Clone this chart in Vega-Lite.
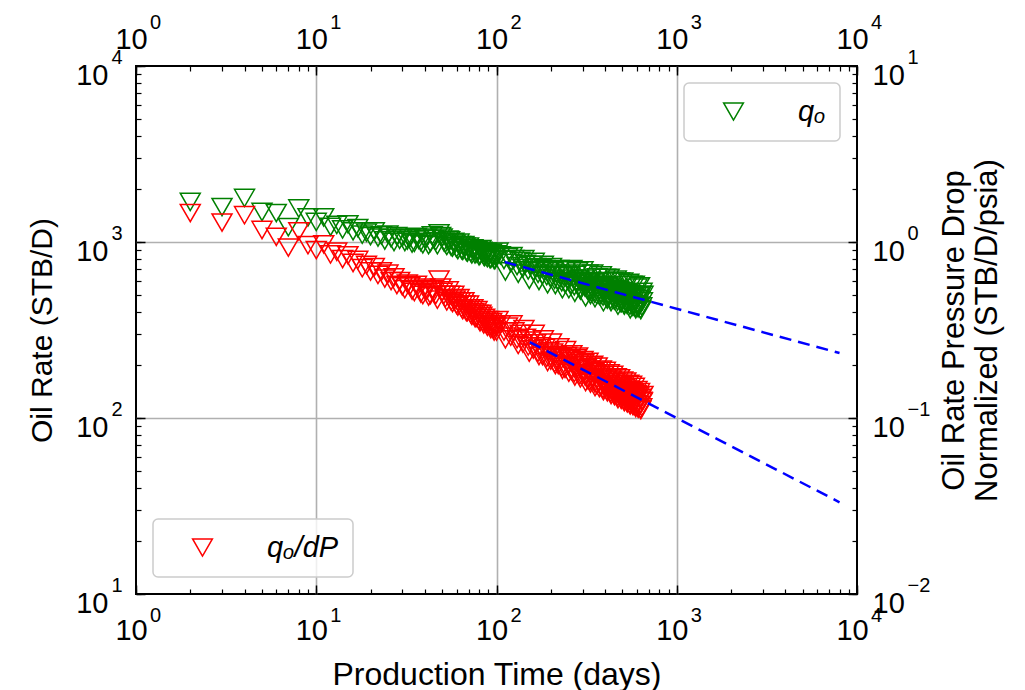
{
  "$schema": "https://vega.github.io/schema/vega-lite/v6.json",
  "width": 721,
  "height": 528,
  "autosize": {"type": "none"},
  "padding": {"left": 136, "top": 66, "right": 168, "bottom": 96},
  "background": "white",
  "config": {
    "font": "Liberation Sans",
    "view": {"stroke": "black", "strokeWidth": 2},
    "axis": {
      "labelFont": "Liberation Sans", "titleFont": "Liberation Sans",
      "labelColor": "black", "titleColor": "black", "titleFontWeight": "normal",
      "labelFlush": false, "labelOverlap": false, "domain": false,
      "tickColor": "black", "tickWidth": 1.5, "gridColor": "#b0b0b0", "gridWidth": 1.6
    },
    "legend": {
      "padding": 14, "offset": 17, "strokeColor": "#cccccc", "strokeWidth": 1.5,
      "cornerRadius": 5, "fillColor": "rgba(255,255,255,0.8)",
      "symbolType": "triangle-down", "symbolSize": 390, "symbolStrokeWidth": 1.5,
      "symbolOffset": 21, "labelOffset": 50, "labelFontSize": 29, "labelFontStyle": "italic",
      "labelFont": "Liberation Sans", "labelColor": "black", "labelLimit": 300
    }
  },
  "datasets": {
    "prod": [
      {"t":2,"q":1690,"qn":1.46},{"t":3,"q":1580,"qn":1.29},{"t":4,"q":1780,"qn":1.42},{"t":5,"q":1480,"qn":1.17},
      {"t":6,"q":1460,"qn":1.07},{"t":7,"q":1215,"qn":0.93},{"t":8,"q":1550,"qn":1.15},{"t":9,"q":1380,"qn":0.96},
      {"t":10,"q":1300,"qn":0.90},{"t":11,"q":1380,"qn":0.97},{"t":12,"q":1220,"qn":0.85},{"t":13,"q":1250,"qn":0.88},
      {"t":14,"q":1180,"qn":0.80},{"t":15,"q":1260,"qn":0.84},{"t":16,"q":1150,"qn":0.76},{"t":17,"q":1200,"qn":0.79},
      {"t":18,"q":1100,"qn":0.71},{"t":19,"q":1130,"qn":0.74},{"t":20,"q":1080,"qn":0.68},{"t":21,"q":1150,"qn":0.72},
      {"t":22,"q":1060,"qn":0.65},{"t":23,"q":1090,"qn":0.68},{"t":24,"q":1020,"qn":0.62},{"t":25,"q":1100,"qn":0.66},
      {"t":26,"q":1050,"qn":0.60},{"t":27,"q":1000,"qn":0.63},{"t":28,"q":1080,"qn":0.57},{"t":29,"q":1030,"qn":0.60},
      {"t":30,"q":1060,"qn":0.56},{"t":31,"q":1000,"qn":0.54},{"t":32,"q":1020,"qn":0.58},{"t":33,"q":1050,"qn":0.56},
      {"t":34,"q":980,"qn":0.53},{"t":35,"q":990,"qn":0.52},{"t":36,"q":1070,"qn":0.57},{"t":37,"q":1030,"qn":0.54},
      {"t":38,"q":1000,"qn":0.51},{"t":39,"q":970,"qn":0.50},{"t":40,"q":1040,"qn":0.55},{"t":41,"q":1060,"qn":0.53},
      {"t":42,"q":960,"qn":0.49},{"t":43,"q":990,"qn":0.50},{"t":44,"q":1090,"qn":0.54},{"t":45,"q":1040,"qn":0.52},
      {"t":46,"q":1010,"qn":0.50},{"t":47,"q":960,"qn":0.47},{"t":48,"q":1120,"qn":0.61},{"t":49,"q":1080,"qn":0.55},
      {"t":50,"q":1060,"qn":0.52},{"t":51,"q":1000,"qn":0.50},{"t":52,"q":980,"qn":0.48},{"t":53,"q":950,"qn":0.46},
      {"t":54,"q":1030,"qn":0.53},{"t":55,"q":1020,"qn":0.50},{"t":56,"q":940,"qn":0.46},{"t":57,"q":930,"qn":0.45},
      {"t":58,"q":1000,"qn":0.50},{"t":59,"q":980,"qn":0.47},{"t":60,"q":920,"qn":0.44},{"t":61,"q":900,"qn":0.43},
      {"t":62,"q":990,"qn":0.48},{"t":63,"q":960,"qn":0.46},{"t":64,"q":900,"qn":0.42},{"t":65,"q":890,"qn":0.41},
      {"t":66,"q":960,"qn":0.46},{"t":67,"q":940,"qn":0.44},{"t":68,"q":880,"qn":0.40},{"t":69,"q":870,"qn":0.40},
      {"t":70,"q":940,"qn":0.44},{"t":71,"q":920,"qn":0.42},{"t":72,"q":870,"qn":0.39},{"t":73,"q":850,"qn":0.38},
      {"t":74,"q":920,"qn":0.42},{"t":75,"q":900,"qn":0.40},{"t":76,"q":850,"qn":0.37},{"t":77,"q":860,"qn":0.37},
      {"t":78,"q":900,"qn":0.41},{"t":79,"q":880,"qn":0.39},{"t":80,"q":830,"qn":0.36},{"t":81,"q":840,"qn":0.35},
      {"t":82,"q":910,"qn":0.39},{"t":83,"q":890,"qn":0.38},{"t":84,"q":860,"qn":0.35},{"t":85,"q":830,"qn":0.34},
      {"t":86,"q":820,"qn":0.37},{"t":87,"q":870,"qn":0.36},{"t":88,"q":880,"qn":0.34},{"t":89,"q":810,"qn":0.33},
      {"t":90,"q":830,"qn":0.36},{"t":91,"q":860,"qn":0.35},{"t":92,"q":800,"qn":0.33},{"t":93,"q":800,"qn":0.32},
      {"t":94,"q":870,"qn":0.35},{"t":95,"q":850,"qn":0.34},{"t":96,"q":820,"qn":0.32},{"t":97,"q":790,"qn":0.31},
      {"t":98,"q":790,"qn":0.34},{"t":99,"q":830,"qn":0.33},{"t":100,"q":850,"qn":0.31},
      {"t":102,"q":880,"qn":0.36},{"t":105,"q":840,"qn":0.34},{"t":110,"q":790,"qn":0.31},{"t":112,"q":680,"qn":0.28},
      {"t":115,"q":820,"qn":0.33},{"t":120,"q":760,"qn":0.29},{"t":122,"q":830,"qn":0.34},{"t":125,"q":800,"qn":0.31},
      {"t":130,"q":730,"qn":0.28},{"t":132,"q":660,"qn":0.26},{"t":135,"q":780,"qn":0.30},{"t":140,"q":710,"qn":0.265},
      {"t":142,"q":800,"qn":0.32},{"t":145,"q":750,"qn":0.285},{"t":150,"q":690,"qn":0.255},{"t":152,"q":610,"qn":0.235},
      {"t":155,"q":740,"qn":0.275},{"t":160,"q":680,"qn":0.245},{"t":162,"q":770,"qn":0.30},{"t":165,"q":720,"qn":0.265},
      {"t":170,"q":660,"qn":0.235},{"t":172,"q":600,"qn":0.225},{"t":175,"q":710,"qn":0.255},{"t":180,"q":650,"qn":0.225},
      {"t":182,"q":740,"qn":0.28},{"t":185,"q":700,"qn":0.25},{"t":190,"q":640,"qn":0.22},{"t":192,"q":575,"qn":0.208},
      {"t":195,"q":690,"qn":0.24},{"t":200,"q":620,"qn":0.212},{"t":202,"q":720,"qn":0.268},{"t":205,"q":680,"qn":0.235},
      {"t":210,"q":610,"qn":0.205},{"t":212,"q":570,"qn":0.20},{"t":215,"q":660,"qn":0.228},{"t":220,"q":600,"qn":0.20},
      {"t":222,"q":700,"qn":0.252},{"t":225,"q":650,"qn":0.222},{"t":230,"q":590,"qn":0.195},{"t":232,"q":540,"qn":0.188},
      {"t":235,"q":640,"qn":0.218},{"t":240,"q":580,"qn":0.19},{"t":242,"q":690,"qn":0.243},{"t":245,"q":660,"qn":0.225},
      {"t":250,"q":600,"qn":0.198},{"t":252,"q":540,"qn":0.181},{"t":255,"q":640,"qn":0.215},{"t":260,"q":570,"qn":0.185},
      {"t":262,"q":700,"qn":0.23},{"t":265,"q":620,"qn":0.21},{"t":270,"q":560,"qn":0.18},{"t":272,"q":515,"qn":0.172},
      {"t":275,"q":650,"qn":0.218},{"t":280,"q":580,"qn":0.19},{"t":282,"q":680,"qn":0.223},{"t":285,"q":610,"qn":0.205},
      {"t":290,"q":540,"qn":0.175},{"t":292,"q":530,"qn":0.168},{"t":295,"q":600,"qn":0.20},{"t":300,"q":560,"qn":0.18},
      {"t":302,"q":690,"qn":0.213},{"t":305,"q":620,"qn":0.205},{"t":310,"q":550,"qn":0.172},{"t":312,"q":485,"qn":0.16},
      {"t":315,"q":590,"qn":0.192},{"t":320,"q":530,"qn":0.165},{"t":322,"q":660,"qn":0.208},{"t":325,"q":580,"qn":0.188},
      {"t":330,"q":520,"qn":0.162},{"t":332,"q":500,"qn":0.157},{"t":335,"q":600,"qn":0.195},{"t":340,"q":540,"qn":0.168},
      {"t":342,"q":660,"qn":0.20},{"t":345,"q":570,"qn":0.182},{"t":350,"q":510,"qn":0.158},{"t":352,"q":480,"qn":0.15},
      {"t":355,"q":560,"qn":0.178},{"t":360,"q":500,"qn":0.154},{"t":362,"q":630,"qn":0.196},{"t":365,"q":590,"qn":0.185},
      {"t":370,"q":530,"qn":0.16},{"t":372,"q":495,"qn":0.148},{"t":375,"q":560,"qn":0.174},{"t":380,"q":500,"qn":0.15},
      {"t":382,"q":645,"qn":0.188},{"t":385,"q":550,"qn":0.17},{"t":390,"q":490,"qn":0.146},{"t":392,"q":455,"qn":0.142},
      {"t":395,"q":570,"qn":0.176},{"t":400,"q":510,"qn":0.152},{"t":402,"q":625,"qn":0.185},{"t":405,"q":540,"qn":0.165},
      {"t":410,"q":480,"qn":0.143},{"t":412,"q":470,"qn":0.14},{"t":415,"q":560,"qn":0.17},{"t":420,"q":500,"qn":0.148},
      {"t":422,"q":625,"qn":0.179},{"t":425,"q":530,"qn":0.16},{"t":430,"q":470,"qn":0.139},{"t":432,"q":455,"qn":0.135},
      {"t":435,"q":550,"qn":0.165},{"t":440,"q":490,"qn":0.144},{"t":442,"q":600,"qn":0.176},{"t":445,"q":520,"qn":0.155},
      {"t":450,"q":465,"qn":0.135},{"t":452,"q":470,"qn":0.133},{"t":455,"q":540,"qn":0.16},{"t":460,"q":480,"qn":0.14},
      {"t":462,"q":610,"qn":0.17},{"t":465,"q":515,"qn":0.151},{"t":470,"q":460,"qn":0.132},{"t":472,"q":435,"qn":0.128},
      {"t":475,"q":530,"qn":0.156},{"t":480,"q":470,"qn":0.136},{"t":482,"q":595,"qn":0.168},{"t":485,"q":505,"qn":0.147},
      {"t":490,"q":450,"qn":0.129},{"t":492,"q":450,"qn":0.127},{"t":495,"q":525,"qn":0.152},{"t":500,"q":465,"qn":0.133},
      {"t":502,"q":595,"qn":0.163},{"t":505,"q":500,"qn":0.143},{"t":510,"q":445,"qn":0.126},{"t":512,"q":435,"qn":0.123},
      {"t":515,"q":515,"qn":0.148},{"t":520,"q":460,"qn":0.13},{"t":522,"q":570,"qn":0.161},{"t":525,"q":495,"qn":0.14},
      {"t":530,"q":440,"qn":0.123},{"t":532,"q":445,"qn":0.121},{"t":535,"q":510,"qn":0.145},{"t":540,"q":455,"qn":0.127},
      {"t":542,"q":585,"qn":0.156},{"t":545,"q":490,"qn":0.137},{"t":550,"q":435,"qn":0.12},{"t":552,"q":415,"qn":0.118},
      {"t":555,"q":505,"qn":0.142},{"t":560,"q":450,"qn":0.124},{"t":562,"q":570,"qn":0.154},{"t":565,"q":485,"qn":0.134},
      {"t":570,"q":430,"qn":0.118},{"t":572,"q":430,"qn":0.117},{"t":575,"q":500,"qn":0.139},{"t":580,"q":445,"qn":0.122},
      {"t":582,"q":570,"qn":0.15},{"t":585,"q":480,"qn":0.131},{"t":590,"q":425,"qn":0.116},{"t":592,"q":415,"qn":0.114},
      {"t":595,"q":495,"qn":0.136},{"t":600,"q":440,"qn":0.12},{"t":602,"q":550,"qn":0.144},{"t":605,"q":475,"qn":0.129},
      {"t":610,"q":420,"qn":0.114},{"t":612,"q":430,"qn":0.113},{"t":615,"q":490,"qn":0.133},{"t":620,"q":435,"qn":0.118},
      {"t":622,"q":560,"qn":0.14},{"t":625,"q":470,"qn":0.127},{"t":630,"q":415,"qn":0.112},{"t":632,"q":410,"qn":0.111},
      {"t":635,"q":500,"qn":0.13},{"t":640,"q":430,"qn":0.115},{"t":642,"q":520,"qn":0.125},{"t":645,"q":460,"qn":0.124},
      {"t":650,"q":500,"qn":0.135}
    ],
    "fitq": [{"t":111,"q":769},{"t":8000,"q":234}],
    "fitn": [{"t":153,"qn":0.27},{"t":8000,"qn":0.0332}]
  },
  "layer": [
    {
      "data": {"name": "prod"},
      "mark": {"type": "point", "shape": "triangle-down", "filled": false, "size": 400, "strokeWidth": 1.5, "opacity": 1},
      "encoding": {
        "x": {"field": "t", "type": "quantitative",
          "scale": {"type": "log", "domain": [1, 10000], "nice": false},
          "axis": {"orient": "bottom", "values": [1,10,100,1000,10000], "labelExpr": "'10'",
            "labelFontSize": 29, "labelPadding": 31, "labelOffset": -5, "tickSize": -9,
            "grid": true, "gridOpacity": {"condition": {"test": "datum.value <= 1 || datum.value >= 10000", "value": 0}, "value": 1},
            "title": "Production Time (days)", "titleFontSize": 32, "titlePadding": 14}},
        "y": {"field": "q", "type": "quantitative",
          "scale": {"type": "log", "domain": [10, 10000], "nice": false},
          "axis": {"orient": "left", "values": [10,100,1000,10000], "labelExpr": "'10'",
            "labelFontSize": 29, "labelPadding": 37, "labelOffset": 9, "tickSize": -9,
            "grid": true, "gridOpacity": {"condition": {"test": "datum.value <= 10 || datum.value >= 10000", "value": 0}, "value": 1},
            "title": "Oil Rate (STB/D)", "titleFontSize": 30, "titlePadding": 18}},
        "color": {"datum": "qₒ", "type": "nominal", "scale": {"domain": ["qₒ"], "range": ["#008000"]},
          "legend": {"orient": "top-right", "title": null}}
      }
    },
    {
      "data": {"name": "prod"},
      "mark": {"type": "point", "shape": "triangle-down", "filled": false, "size": 400, "strokeWidth": 1.5, "opacity": 1},
      "encoding": {
        "x": {"field": "t", "type": "quantitative",
          "scale": {"type": "log", "domain": [1, 10000], "nice": false},
          "axis": {"orient": "top", "values": [1,10,100,1000,10000], "labelExpr": "'10'",
            "labelFontSize": 29, "labelPadding": 21, "labelOffset": -5, "tickSize": -9,
            "grid": false, "title": null}},
        "y": {"field": "qn", "type": "quantitative",
          "scale": {"type": "log", "domain": [0.01, 10], "nice": false},
          "axis": {"orient": "right", "values": [0.01,0.1,1,10], "labelExpr": "'10'",
            "labelFontSize": 29, "labelPadding": 24, "labelOffset": 9, "tickSize": -9,
            "grid": false, "title": ["Oil Rate Pressure Drop", "Normalized (STB/D/psia)"],
            "titleFontSize": 31, "titleAngle": 270, "titleBaseline": "top", "titleLineHeight": 33, "titlePadding": 2}},
        "color": {"datum": "qₒ/dP", "type": "nominal", "scale": {"domain": ["qₒ/dP"], "range": ["#ff0000"]},
          "legend": {"orient": "bottom-left", "title": null}}
      }
    },
    {
      "data": {"name": "fitq"},
      "mark": {"type": "line", "color": "#0000ff", "strokeWidth": 2.5, "strokeDash": [12, 7]},
      "encoding": {
        "x": {"field": "t", "type": "quantitative",
          "scale": {"type": "log", "domain": [1, 10000], "nice": false},
          "axis": {"orient": "bottom", "values": [1,2,3,4,5,6,7,8,9,10,20,30,40,50,60,70,80,90,100,200,300,400,500,600,700,800,900,1000,2000,3000,4000,5000,6000,7000,8000,9000,10000],
            "labelExpr": "datum.value == 1 ? '0' : datum.value == 10 ? '1' : datum.value == 100 ? '2' : datum.value == 1000 ? '3' : datum.value == 10000 ? '4' : ''",
            "labelFontSize": 20, "labelPadding": 16.5, "labelOffset": 19, "tickSize": -5, "tickWidth": 1.2,
            "grid": false, "title": null}},
        "y": {"field": "q", "type": "quantitative",
          "scale": {"type": "log", "domain": [10, 10000], "nice": false},
          "axis": {"orient": "left", "values": [10,20,30,40,50,60,70,80,90,100,200,300,400,500,600,700,800,900,1000,2000,3000,4000,5000,6000,7000,8000,9000,10000],
            "labelExpr": "datum.value == 10 ? '1' : datum.value == 100 ? '2' : datum.value == 1000 ? '3' : datum.value == 10000 ? '4' : ''",
            "labelFontSize": 20, "labelPadding": 19, "labelOffset": -9, "tickSize": -5, "tickWidth": 1.2,
            "grid": false, "title": null}}
      }
    },
    {
      "data": {"name": "fitn"},
      "mark": {"type": "line", "color": "#0000ff", "strokeWidth": 2.5, "strokeDash": [12, 7]},
      "encoding": {
        "x": {"field": "t", "type": "quantitative",
          "scale": {"type": "log", "domain": [1, 10000], "nice": false},
          "axis": {"orient": "top", "values": [1,2,3,4,5,6,7,8,9,10,20,30,40,50,60,70,80,90,100,200,300,400,500,600,700,800,900,1000,2000,3000,4000,5000,6000,7000,8000,9000,10000],
            "labelExpr": "datum.value == 1 ? '0' : datum.value == 10 ? '1' : datum.value == 100 ? '2' : datum.value == 1000 ? '3' : datum.value == 10000 ? '4' : ''",
            "labelFontSize": 20, "labelPadding": 39, "labelOffset": 19, "tickSize": -5, "tickWidth": 1.2,
            "grid": false, "title": null}},
        "y": {"field": "qn", "type": "quantitative",
          "scale": {"type": "log", "domain": [0.01, 10], "nice": false},
          "axis": {"orient": "right", "values": [0.01,0.02,0.03,0.04,0.05,0.06,0.07,0.08,0.09,0.1,0.2,0.3,0.4,0.5,0.6,0.7,0.8,0.9,1,2,3,4,5,6,7,8,9,10],
            "labelExpr": "datum.value == 0.01 ? '−2' : datum.value == 0.1 ? '−1' : datum.value == 1 ? '0' : datum.value == 10 ? '1' : ''",
            "labelFontSize": 20, "labelPadding": 55, "labelOffset": -9, "tickSize": -5, "tickWidth": 1.2,
            "grid": false, "title": null}}
      }
    }
  ],
  "resolve": {
    "scale": {"y": "independent", "color": "independent"},
    "axis": {"x": "independent", "y": "independent"},
    "legend": {"color": "independent"}
  }
}
